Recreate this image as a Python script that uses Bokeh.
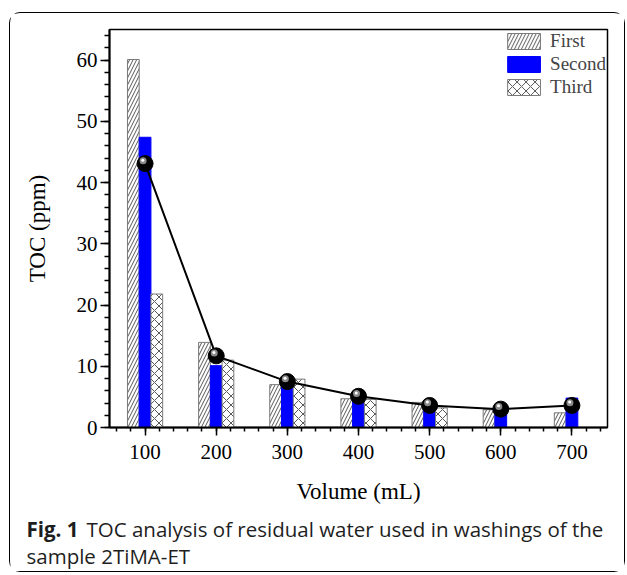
from bokeh.plotting import figure
from bokeh.models import (ColumnDataSource, Legend, LegendItem, FixedTicker)
from bokeh.layouts import column
from bokeh.core.properties import value
from bokeh.transform import dodge
from bokeh.embed import file_html
from bokeh.resources import INLINE

# ---- data ----
volume = [100, 200, 300, 400, 500, 600, 700]
first = [60.1, 13.9, 7.0, 4.7, 4.1, 2.9, 2.4]
second = [47.4, 10.1, 7.6, 5.9, 3.5, 3.1, 4.8]
third = [21.8, 11.0, 7.9, 4.6, 3.2, 0.0, 0.0]
average = [43.1, 11.7, 7.5, 5.1, 3.6, 3.0, 3.6]
y_ticks = [0, 10, 20, 30, 40, 50, 60]
legend_labels = ["First", "Second", "Third"]
caption_bold = "Fig. 1"
caption_line1 = "TOC analysis of residual water used in washings of the"
caption_line2 = "sample 2TiMA-ET"

src = ColumnDataSource(dict(x=volume, first=first, second=second, third=third, avg=average))

W = 614
H1 = 495
H2 = 63
p = figure(width=W, height=H1, output_backend="svg", toolbar_location=None,
           x_range=(50, 750), y_range=(0, 65),
           min_border_left=99, min_border_right=17, min_border_top=16, min_border_bottom=81)
p.frame_align = False
p.grid.visible = False
p.background_fill_color = "white"
p.border_fill_color = "white"
p.outline_line_color = "black"
p.outline_line_width = 1.5

serif = "Liberation Serif"
for ax in (p.xaxis[0], p.yaxis[0]):
    ax.axis_line_width = 2
    ax.major_tick_in = 0
    ax.minor_tick_in = 0
    ax.major_tick_line_width = 1.5
    ax.minor_tick_line_width = 1.5
    ax.major_label_text_font = serif
    ax.major_label_text_font_size = "21px"
    ax.major_label_text_color = "black"
    ax.axis_label_text_font = serif
    ax.axis_label_text_font_size = "23px"
    ax.axis_label_text_font_style = "normal"
    ax.axis_label_text_color = "black"

p.xaxis.ticker = FixedTicker(ticks=volume, minor_ticks=list(range(60, 760, 20)))
p.yaxis.ticker = FixedTicker(ticks=y_ticks, minor_ticks=list(range(0, 66, 2)))
p.xaxis.major_tick_out = 8
p.xaxis.minor_tick_out = 4
p.yaxis.major_tick_out = 9
p.yaxis.minor_tick_out = 5
p.xaxis.major_label_standoff = 9
p.yaxis.major_label_standoff = 3
p.xaxis.axis_label = "Volume (mL)"
p.yaxis.axis_label = "TOC (ppm)"
p.xaxis.axis_label_standoff = 17
p.yaxis.axis_label_standoff = 24

bw = 16.5
r1 = p.vbar(x=dodge("x", -bw, range=None), top="first", width=bw, source=src,
            fill_color="white", line_color="#7a7a7a", line_width=1,
            hatch_pattern="/", hatch_color="#444444", hatch_scale=7, hatch_weight=0.9)
r2 = p.vbar(x="x", top="second", width=bw, source=src,
            fill_color="#0000ff", line_color="#0000ff", line_width=1)
r3 = p.vbar(x=dodge("x", bw, range=None), top="third", width=bw, source=src,
            fill_color="white", line_color="#7a7a7a", line_width=1,
            hatch_pattern="x", hatch_color="#444444", hatch_scale=9, hatch_weight=0.9)

p.line(x="x", y="avg", source=src, line_color="black", line_width=2)
p.scatter(x="x", y="avg", source=src, size=16, fill_color="black", line_color="black")
p.scatter(x=dodge("x", -2.8, range=None), y=dodge("avg", 0.45, range=None), source=src,
          size=7, fill_color="#8a8a8a", line_color=None)
p.scatter(x=dodge("x", -3.2, range=None), y=dodge("avg", 0.55, range=None), source=src,
          size=3, fill_color="white", line_color=None)

legend = Legend(items=[LegendItem(label=legend_labels[0], renderers=[r1]),
                       LegendItem(label=legend_labels[1], renderers=[r2]),
                       LegendItem(label=legend_labels[2], renderers=[r3])],
                location="top_right", margin=0, padding=1, spacing=1,
                glyph_width=41, glyph_height=20, label_height=20, label_standoff=6,
                label_text_font=serif, label_text_font_size="19px",
                border_line_alpha=0, background_fill_alpha=0)
p.add_layout(legend)

# caption figure (frame covers the whole canvas; y grows downward)
c = figure(width=W, height=H2, output_backend="svg", toolbar_location=None,
           x_range=(0, W), y_range=(H2, 0), x_axis_type=None, y_axis_type=None,
           min_border=0)
c.frame_align = False
c.grid.visible = False
c.outline_line_color = None
c.background_fill_color = "white"
c.border_fill_color = "white"
c.text(x=[16], y=[20], text=[caption_bold], text_font=value("Open Sans"),
       text_font_style="bold", text_font_size="20.5px", text_baseline="middle",
       text_color="#1e1e1e")
c.text(x=[76], y=[20], text=[caption_line1], text_font=value("Open Sans"),
       text_font_size="20.5px", text_baseline="middle", text_color="#1e1e1e")
c.text(x=[16], y=[47], text=[caption_line2], text_font=value("Open Sans"),
       text_font_size="20.5px", text_baseline="middle", text_color="#1e1e1e")

layout = column(p, c, margin=(13, 0, 0, 10), spacing=0,
                styles={"outline": "1.5px solid black", "border-radius": "10px"})

open("out.html", "w").write(file_html(layout, INLINE))
